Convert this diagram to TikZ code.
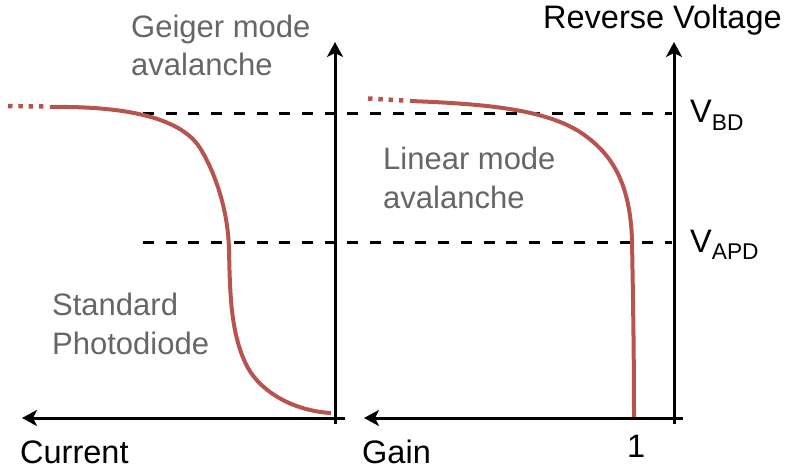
\documentclass[tikz,border=0pt]{standalone}
\usepackage{fontspec}
\setmainfont{Liberation Sans}
\usetikzlibrary{arrows.meta}
\definecolor{curvered}{HTML}{B85450}
\definecolor{labelgray}{HTML}{666666}
\tikzset{
  axis/.style={line width=3pt, -{Stealth[length=15pt,width=16pt,inset=4pt]}},
  level/.style={line width=3pt, dash pattern=on 11pt off 11.7pt},
  curve/.style={line width=4pt, curvered},
  curvedots/.style={line width=4.5pt, curvered, dash pattern=on 4.5pt off 5.8pt},
  axislabel/.style={anchor=base west, inner sep=0pt, font=\fontsize{32.5}{38}\selectfont},
  regionlabel/.style={anchor=base west, inner sep=0pt, align=left, text=labelgray, font=\fontsize{31}{38.5}\selectfont}
}
\begin{document}
\begin{tikzpicture}[x=1pt, y=-1pt]
  \useasboundingbox (0,0) rectangle (787,473);

  % axis end points
  \coordinate (cur0) at (345,418);
  \coordinate (cur1) at (22,418);
  \coordinate (lv0) at (335,424);
  \coordinate (lv1) at (335,42);
  \coordinate (gain0) at (683,418);
  \coordinate (gain1) at (364,418);
  \coordinate (rv0) at (674,424);
  \coordinate (rv1) at (674,42);

  % voltage levels
  \coordinate (bd0) at (143,114);
  \coordinate (bd1) at (672,114);
  \coordinate (apd0) at (143,242);
  \coordinate (apd1) at (672,242);

  \draw[level] (bd0) -- (bd1);
  \draw[level] (apd0) -- (apd1);

  % photodiode current curve
  \coordinate (pdA) at (8,106);
  \coordinate (pdB) at (46,106.5);
  \coordinate (pdC) at (50,107);
  \draw[curvedots] (pdA) -- (pdB);
  \draw[curve] (pdC) .. controls (120,106) and (180,116) .. (200,148)
    .. controls (212,167) and (228,205) .. (229,250)
    .. controls (230,290) and (230,335) .. (248,368)
    .. controls (262,393) and (295,411) .. (331,413);

  % APD gain curve
  \coordinate (gnA) at (368,98.5);
  \coordinate (gnB) at (404,100.5);
  \coordinate (gnC) at (410,101);
  \draw[curvedots] (gnA) -- (gnB);
  \draw[curve] (gnC) .. controls (490,104) and (545,110) .. (580,132)
    .. controls (610,152) and (630,180) .. (632,240)
    .. controls (633,300) and (634,350) .. (634,418);

  % axes
  \draw[axis] (cur0) -- (cur1);
  \draw[axis] (lv0) -- (lv1);
  \draw[axis] (gain0) -- (gain1);
  \draw[axis] (rv0) -- (rv1);

  % axis labels
  \node[axislabel] (revv) at (543,29) {Reverse Voltage};
  \node[axislabel] (curr) at (20,463) {Current};
  \node[axislabel] (gain) at (362,463) {Gain};
  \node[axislabel] (one) at (627,457) {1};
  \node[axislabel] (vbd) at (690,123) {V\textsubscript{BD}};
  \node[axislabel] (vapd) at (690,252) {V\textsubscript{APD}};

  % region labels (anchored at the baseline of the last line)
  \node[regionlabel] (geiger) at (131,76) {Geiger mode\\avalanche};
  \node[regionlabel] (linear) at (383,208) {Linear mode\\avalanche};
  \node[regionlabel] (standard) at (52,354) {Standard\\Photodiode};
\end{tikzpicture}
\end{document}
